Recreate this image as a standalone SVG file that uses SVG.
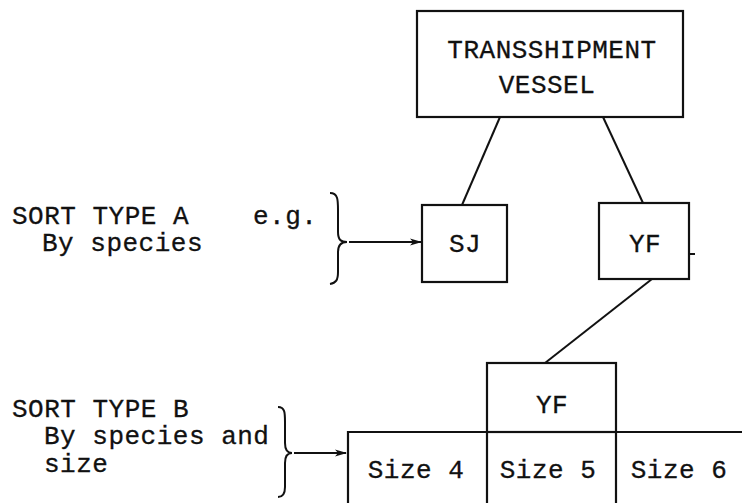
<svg xmlns="http://www.w3.org/2000/svg" width="742" height="503" viewBox="0 0 742 503">
<defs>
<style>
.t{font-family:"Liberation Mono","DejaVu Sans Mono",monospace;font-size:26px;letter-spacing:0.5px;fill:#111;stroke:#111;stroke-width:0.3}
.c{text-anchor:middle}
.b{fill:none;stroke:#111;stroke-width:2.2}
.l{fill:none;stroke:#111;stroke-width:2}
</style>
<marker id="ah" viewBox="0 0 12 8" refX="11" refY="4" markerWidth="12" markerHeight="8" markerUnits="userSpaceOnUse" orient="auto">
<path d="M0,0.5 L12,4 L0,7.5 L3,4 Z" fill="#111"/>
</marker>
</defs>
<rect width="742" height="503" fill="#fff"/>

<g id="transshipment">
<rect class="b" x="417" y="11" width="266" height="106"/>
<text class="t c" x="552" y="58">TRANSSHIPMENT</text>
<text class="t c" x="547" y="93">VESSEL</text>
</g>

<g id="sj">
<rect class="b" x="422" y="205" width="85" height="77"/>
<text class="t c" x="465" y="252">SJ</text>
</g>

<g id="yf">
<rect class="b" x="599" y="203" width="90" height="76"/>
<text class="t c" x="645" y="252">YF</text>
<path class="l" d="M689 254 H695"/>
</g>

<g id="yf-size">
<rect class="b" x="487" y="363" width="129" height="69"/>
<text class="t c" x="552" y="413">YF</text>
</g>

<g id="size-row">
<path class="b" d="M348 503 V432 H742"/>
<path class="b" d="M487 432 V503 M616 432 V503"/>
<text class="t c" x="416" y="478">Size 4</text>
<text class="t c" x="548" y="478">Size 5</text>
<text class="t c" x="679" y="478">Size 6</text>
</g>

<g id="label-a">
<text class="t" x="12" y="224">SORT TYPE A</text>
<text class="t" x="42" y="251">By species</text>
<text class="t" x="253" y="224">e.g.</text>
</g>

<g id="label-b">
<text class="t" x="12" y="417">SORT TYPE B</text>
<text class="t" x="44" y="444">By species and</text>
<text class="t" x="44" y="472">size</text>
</g>

<g id="connectors">
<path class="l" d="M500 117 L462 205"/>
<path class="l" d="M603 117 L643 203"/>
<path class="l" d="M652 279 L545 363"/>
<path class="l" d="M330 193 C338 193 338 200 338 210 L338 232 C338 240 341 242 347 242 C341 242 338 245 338 252 L338 272 C338 280 336 283 330 284"/>
<path class="l" d="M349 242 H421" marker-end="url(#ah)"/>
<path class="l" d="M278 407 C285 407 285 413 285 422 L285 443 C285 450 287 453 292 453 C287 453 285 456 285 463 L285 487 C285 494 283 497 278 497"/>
<path class="l" d="M294 453 H346" marker-end="url(#ah)"/>
</g>
</svg>
